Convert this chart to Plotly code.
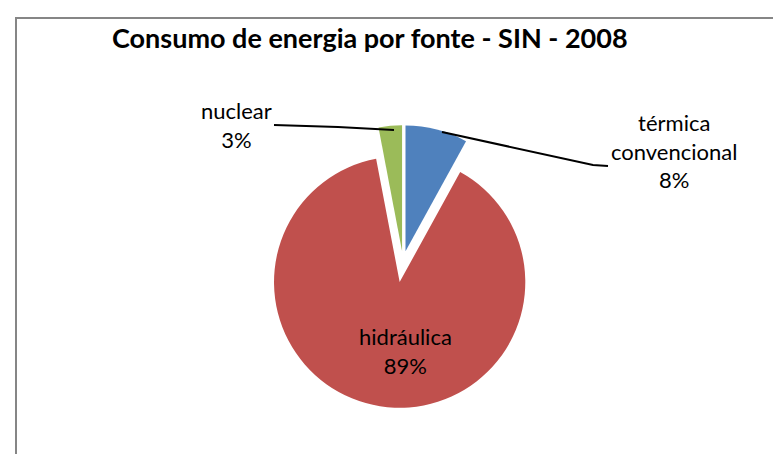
import plotly.graph_objects as go

W, H = 781, 454

categories = ["térmica convencional", "hidráulica", "nuclear"]
values = [8, 89, 3]
pct_labels = ["8%", "89%", "3%"]
colors = ["#4F81BD", "#C0504D", "#9BBB59"]
pulls = [0.08, 0.17, 0.08]
title_text = "Consumo de energia por fonte - SIN - 2008"

def px(x):
    return x / W

def py(y):
    return 1 - y / H

FONT = "Lato"

fig = go.Figure()
fig.add_trace(go.Pie(
    labels=categories,
    values=values,
    sort=False,
    direction="clockwise",
    rotation=0,
    pull=pulls,
    marker=dict(colors=colors, line=dict(width=0)),
    textinfo="none",
    hoverinfo="label+percent",
    showlegend=False,
    domain=dict(x=[px(248), px(542)], y=[py(400), py(106)]),
))

lab_font = dict(family=FONT, size=22, color="#000000")
annotations = [
    dict(text=title_text, x=px(362), y=py(30), xref="paper", yref="paper",
         showarrow=False, font=dict(family=FONT, size=27, color="#000000", weight="bold"),
         xanchor="center", yanchor="middle"),
    dict(text="nuclear<br>" + pct_labels[2], x=px(228), y=py(117), xref="paper", yref="paper",
         showarrow=False, font=lab_font, xanchor="center", yanchor="middle"),
    dict(text="térmica<br>" + categories[0].split(" ")[1] + "<br>" + pct_labels[0],
         x=px(666), y=py(143), xref="paper", yref="paper",
         showarrow=False, font=lab_font, xanchor="center", yanchor="middle"),
    dict(text="hidráulica<br>" + pct_labels[1], x=px(397), y=py(343), xref="paper", yref="paper",
         showarrow=False, font=lab_font, xanchor="center", yanchor="middle"),
]

shapes = [
    # chart frame
    dict(type="rect", xref="paper", yref="paper", x0=px(8), y0=py(470), x1=px(800), y1=py(10),
         line=dict(color="#868686", width=2), fillcolor="rgba(0,0,0,0)", layer="above"),
    # leader lines
    dict(type="path", xref="paper", yref="paper",
         path=f"M {px(266)} {py(117)} L {px(330)} {py(119)} L {px(386)} {py(122)}",
         line=dict(color="#000000", width=2)),
    dict(type="path", xref="paper", yref="paper",
         path=f"M {px(434)} {py(124)} L {px(585)} {py(157)} L {px(600)} {py(158)}",
         line=dict(color="#000000", width=2)),
]

fig.update_layout(
    width=W, height=H, autosize=False,
    margin=dict(l=0, r=0, t=0, b=0),
    paper_bgcolor="#FFFFFF", plot_bgcolor="#FFFFFF",
    annotations=annotations,
    shapes=shapes,
    font=dict(family=FONT),
)

fig.write_html("out.html")
